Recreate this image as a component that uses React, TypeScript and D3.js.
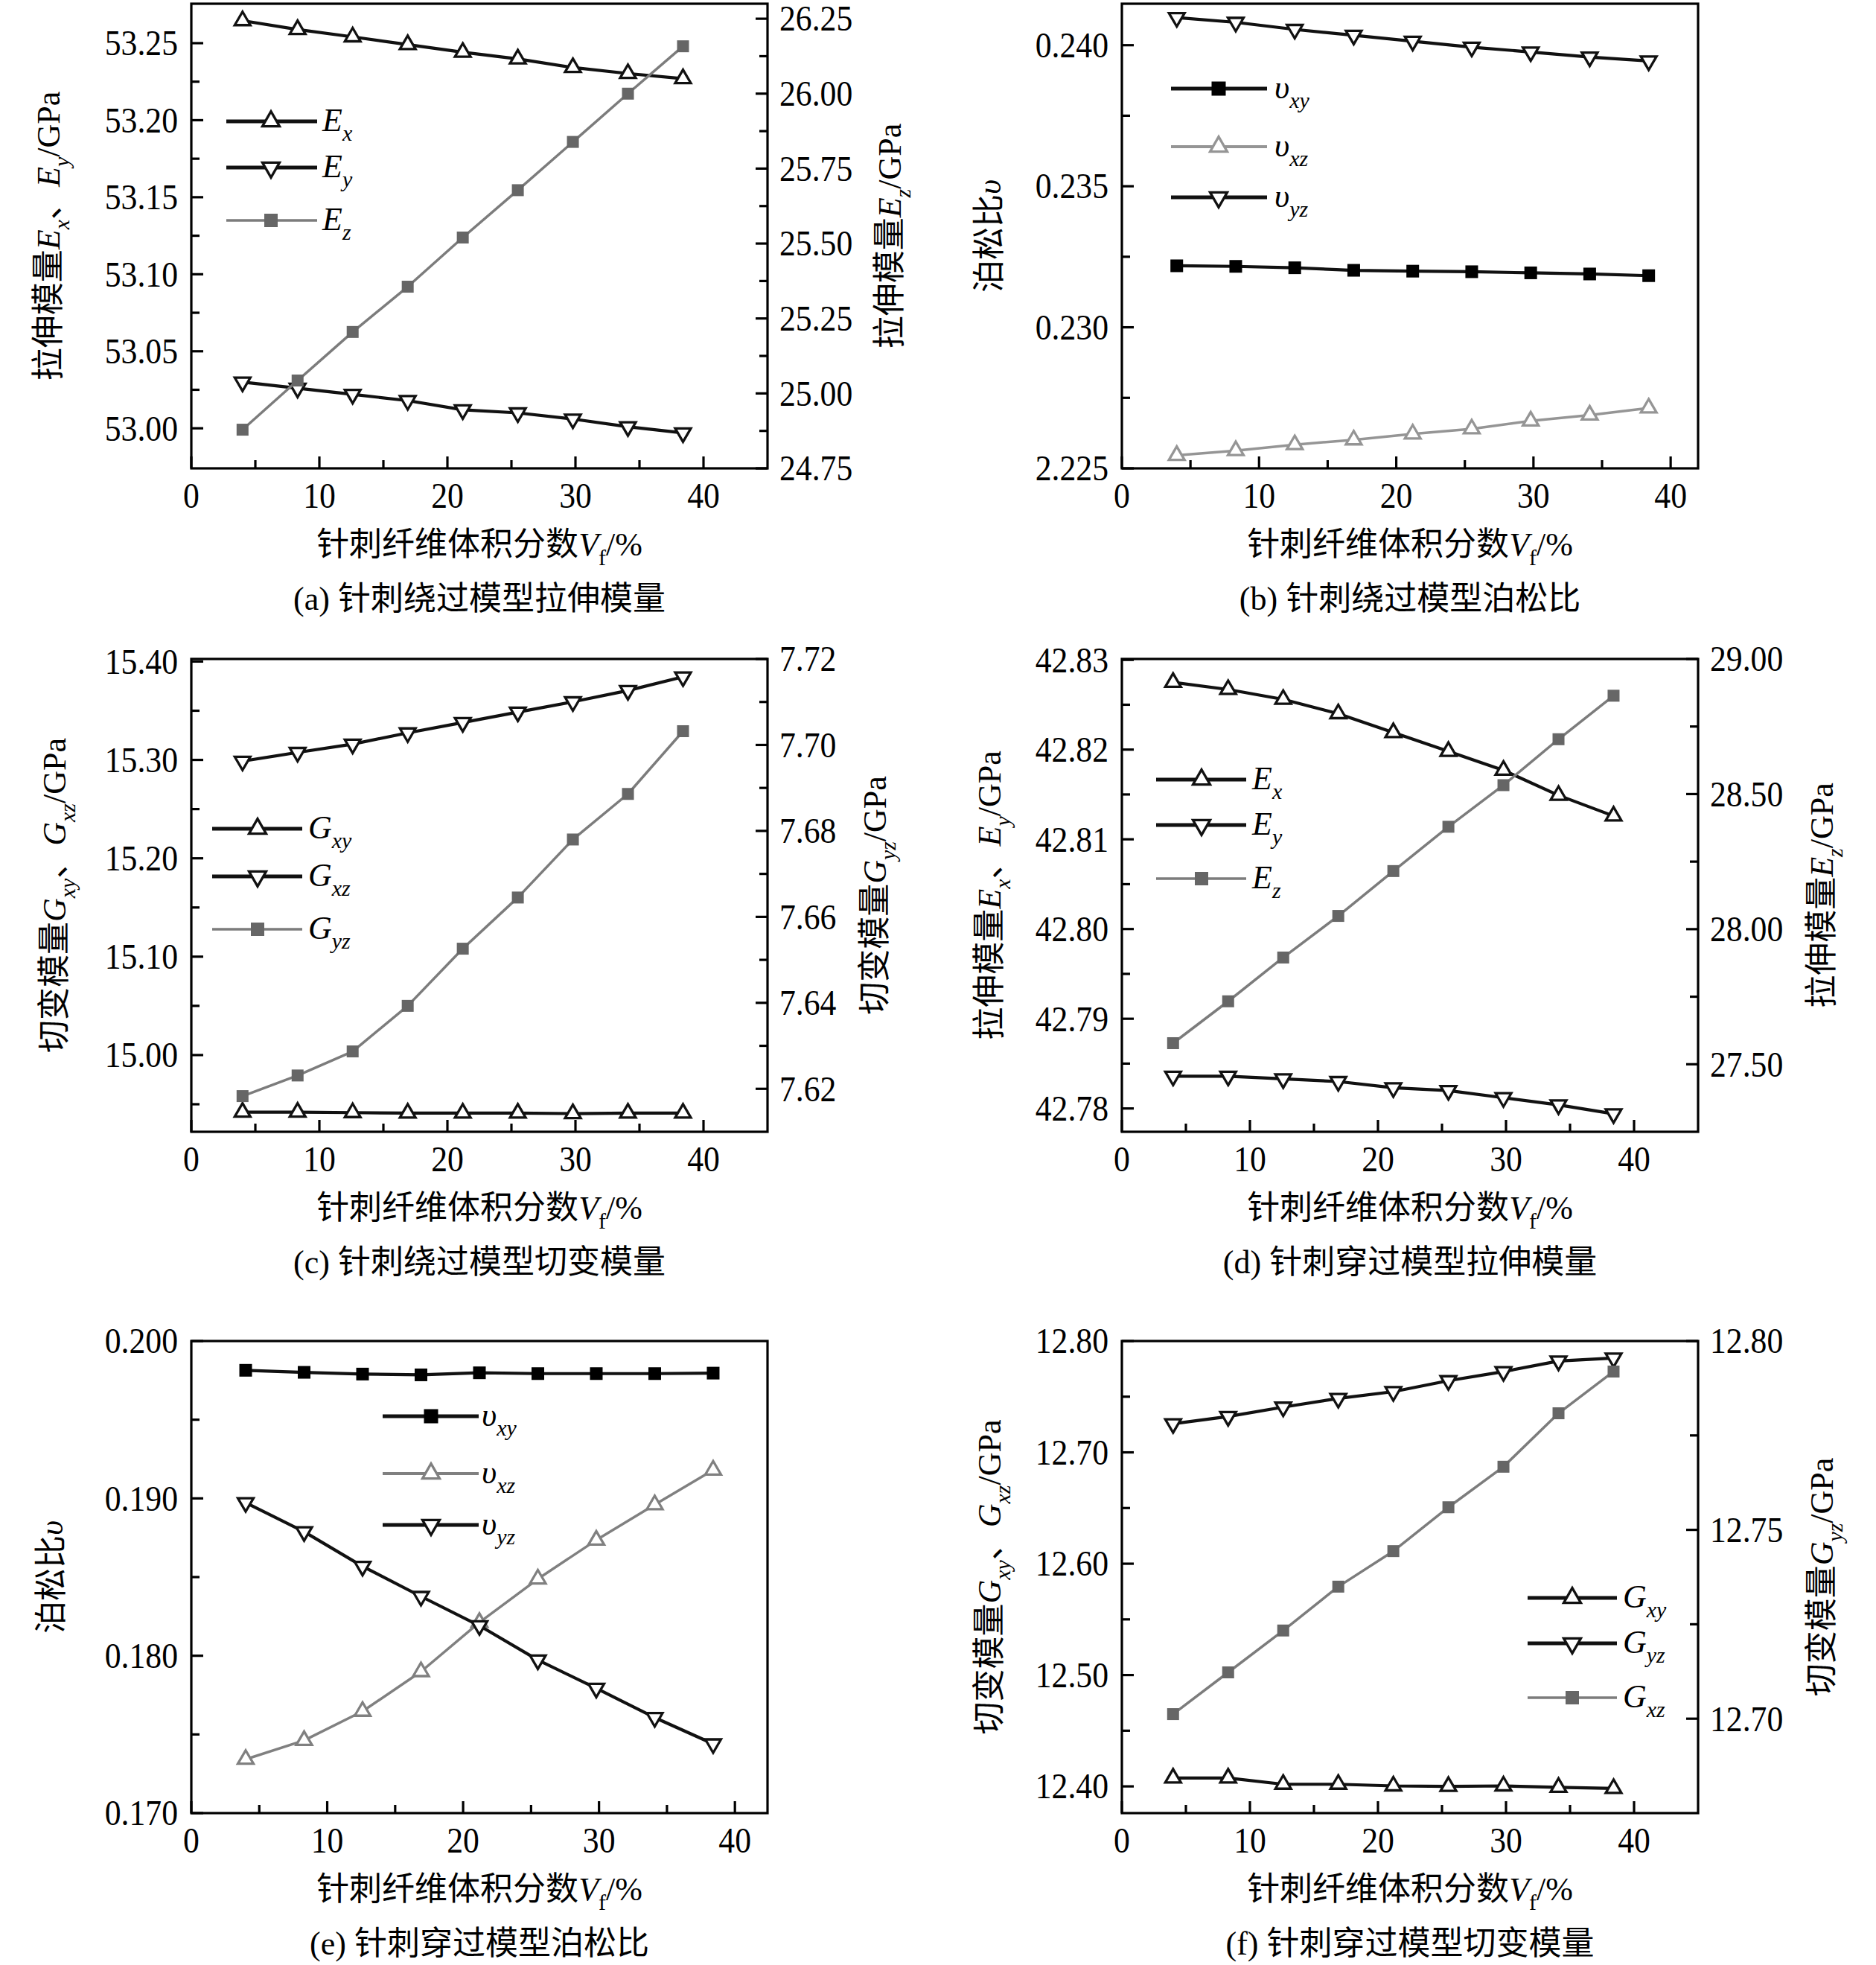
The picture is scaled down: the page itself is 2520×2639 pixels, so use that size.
import React from "react";
import * as d3 from "d3";

if (typeof document !== "undefined") {
  document.body.style.margin = "0";
}

const W = 2520;
const H = 2639;
const FONT = "'Liberation Serif', 'Times New Roman', 'Noto Sans CJK SC', serif";

// ---------- data ----------
const vf = [4.0, 8.3, 12.6, 16.9, 21.2, 25.5, 29.8, 34.1, 38.4];

// (a) 针刺绕过模型拉伸模量
const aEx = [53.2646, 53.2589, 53.2541, 53.2491, 53.2441, 53.2398, 53.2342, 53.2303, 53.227];
const aEy = [53.03, 53.026, 53.022, 53.018, 53.012, 53.01, 53.006, 53.001, 52.997];
const aEz = [24.879, 25.043, 25.205, 25.356, 25.52, 25.678, 25.839, 26.0, 26.158];

// (b) 针刺绕过模型泊松比
const bVxy = [0.23218, 0.23216, 0.23211, 0.23202, 0.23199, 0.23197, 0.23193, 0.23189, 0.23183];
const bVxz = [0.22546, 0.22563, 0.22584, 0.22601, 0.22622, 0.2264, 0.22668, 0.22689, 0.22714];
const bVyz = [0.24098, 0.24081, 0.24056, 0.24035, 0.24014, 0.23993, 0.23976, 0.23958, 0.23944];

// (c) 针刺绕过模型切变模量
const cGxy = [14.942, 14.942, 14.9415, 14.941, 14.941, 14.941, 14.9405, 14.941, 14.941];
const cGxz = [15.2987, 15.3076, 15.316, 15.3275, 15.338, 15.3486, 15.3591, 15.3705, 15.3844];
const cGyz = [7.6183, 7.6231, 7.6287, 7.6393, 7.6526, 7.6645, 7.678, 7.6886, 7.7032];

// (d) 针刺穿过模型拉伸模量
const dEx = [42.8275, 42.8267, 42.8256, 42.824, 42.8219, 42.8198, 42.8177, 42.8149, 42.8126];
const dEy = [42.7836, 42.7836, 42.7833, 42.783, 42.7823, 42.782, 42.7812, 42.7804, 42.7794];
const dEz = [27.578, 27.733, 27.895, 28.049, 28.215, 28.379, 28.533, 28.703, 28.864];

// (e) 针刺穿过模型泊松比
const eVxy = [0.19814, 0.19801, 0.1979, 0.19785, 0.19798, 0.19793, 0.19793, 0.19793, 0.19796];
const eVxz = [0.17342, 0.17462, 0.17647, 0.17899, 0.18212, 0.18488, 0.18735, 0.1896, 0.1918];
const eVyz = [0.18973, 0.18788, 0.18568, 0.18377, 0.18191, 0.17973, 0.17793, 0.17607, 0.1744];

// (f) 针刺穿过模型切变模量
const fGxy = [12.4075, 12.4075, 12.4019, 12.4019, 12.4004, 12.4, 12.4004, 12.3992, 12.3981];
const fGyz = [12.7781, 12.78, 12.7825, 12.7848, 12.7866, 12.7895, 12.7919, 12.7947, 12.7955];
const fGxz = [12.4649, 12.5024, 12.54, 12.5794, 12.6113, 12.6507, 12.6871, 12.7351, 12.7726];

// ---------- ticks ----------
const xTicks = [0, 10, 20, 30, 40];
const aLeftTicks = [53.0, 53.05, 53.1, 53.15, 53.2, 53.25];
const aRightTicks = [24.75, 25.0, 25.25, 25.5, 25.75, 26.0, 26.25];
const bLeftTicks = [0.225, 0.23, 0.235, 0.24];
const bLeftLabels = ["2.225", "0.230", "0.235", "0.240"];
const cLeftTicks = [15.0, 15.1, 15.2, 15.3, 15.4];
const cRightTicks = [7.62, 7.64, 7.66, 7.68, 7.7, 7.72];
const dLeftTicks = [42.78, 42.79, 42.8, 42.81, 42.82, 42.83];
const dRightTicks = [27.5, 28.0, 28.5, 29.0];
const eLeftTicks = [0.17, 0.18, 0.19, 0.2];
const fLeftTicks = [12.4, 12.5, 12.6, 12.7, 12.8];
const fRightTicks = [12.7, 12.75, 12.8];

// ---------- text ----------
const xTitle = [{ t: "针刺纤维体积分数" }, { t: "V", i: true }, { t: "f", s: true }, { t: "/%" }];
const titleEL = [{ t: "拉伸模量" }, { t: "E", i: true }, { t: "x", i: true, s: true }, { t: "、" }, { t: "E", i: true }, { t: "y", i: true, s: true }, { t: "/GPa" }];
const titleER = [{ t: "拉伸模量" }, { t: "E", i: true }, { t: "z", i: true, s: true }, { t: "/GPa" }];
const titleGL = [{ t: "切变模量" }, { t: "G", i: true }, { t: "xy", i: true, s: true }, { t: "、" }, { t: "G", i: true }, { t: "xz", i: true, s: true }, { t: "/GPa" }];
const titleGR = [{ t: "切变模量" }, { t: "G", i: true }, { t: "yz", i: true, s: true }, { t: "/GPa" }];
const titleV = [{ t: "泊松比" }, { t: "υ", i: true }];

type Seg = { t: string; i?: boolean; s?: boolean };

const sym = (base: string, sub: string): Seg[] => [
  { t: base, i: true },
  { t: sub, i: true, s: true },
];

const fmt2 = d3.format(".2f");
const fmt3 = d3.format(".3f");

const BLACK = "#111";
const GREY = "#7c7c7c";
const GREY_SQ = "#666";

type AxisCfg = { domain: [number, number]; ticks: number[]; labels: string[]; minor: number };
type SeriesCfg = {
  ys: number[];
  axis: "L" | "R";
  color: string;
  width: number;
  legW: number;
  marker: "up" | "down" | "sq";
  mk: string;
  sq?: number;
  label: Seg[];
};
type PanelCfg = {
  l: number;
  r: number;
  t: number;
  b: number;
  xMax: number;
  left: AxisCfg;
  right?: AxisCfg;
  series: SeriesCfg[];
  legend: { x0: number; x1: number; mx: number; lx: number; ys: number[] };
  titleL: { x: number; segs: Seg[] };
  titleR?: { x: number; segs: Seg[] };
  caption: string;
};

function rich(segs: Seg[], fs: number) {
  let cur = 0;
  return segs.map((s, k) => {
    const target = s.s ? fs * 0.3 : 0;
    const dy = target - cur;
    cur = target;
    return (
      <tspan key={k} dy={dy} fontStyle={s.i ? "italic" : "normal"} fontSize={s.s ? fs * 0.68 : fs}>
        {s.t}
      </tspan>
    );
  });
}

function Marker({ kind, x, y, color, w, h, sq }: { kind: string; x: number; y: number; color: string; w: number; h: number; sq: number }) {
  if (kind === "sq") {
    return <rect x={x - sq / 2} y={y - sq / 2} width={sq} height={sq} fill={color} />;
  }
  const s = kind === "up" ? 1 : -1;
  const d = `M${x},${y - (s * 2 * h) / 3} L${x + w / 2},${y + (s * h) / 3} L${x - w / 2},${y + (s * h) / 3} Z`;
  return <path d={d} fill="#fff" stroke={color} strokeWidth={3.3} strokeLinejoin="miter" />;
}

function minors(major: number[], off: number, dom: [number, number]) {
  const eps = Math.abs(dom[1] - dom[0]) * 0.004;
  const out: number[] = [];
  major.forEach((m) => {
    [m - off, m + off].forEach((v) => {
      if (v > dom[0] + eps && v < dom[1] - eps && !out.some((o) => Math.abs(o - v) < off * 0.1)) out.push(v);
    });
  });
  return out;
}

const TICK_FS = 48;
function TickLabel({ x, y, anchor, children }: { x: number; y: number; anchor: string; children: React.ReactNode }) {
  return (
    <text transform={`translate(${x},${y}) scale(0.91,1)`} x={0} y={TICK_FS * 0.34} textAnchor={anchor} fontSize={TICK_FS}>
      {children}
    </text>
  );
}

function Panel({ p }: { p: PanelCfg }) {
  const x = d3.scaleLinear().domain([0, p.xMax]).range([p.l, p.r]);
  const yL = d3.scaleLinear().domain(p.left.domain).range([p.b, p.t]);
  const yR = p.right ? d3.scaleLinear().domain(p.right.domain).range([p.b, p.t]) : yL;
  const cx = (p.l + p.r) / 2;
  const cy = (p.t + p.b) / 2;
  const TF = 44;
  const MAJ = 16;
  const MIN = 11;
  const xMin = minors(xTicks, 5, [0, p.xMax]);
  const lMin = minors(p.left.ticks, p.left.minor, p.left.domain);
  const rMin = p.right ? minors(p.right.ticks, p.right.minor, p.right.domain) : [];

  return (
    <g>
      {p.series.map((s, k) => {
        const sc = s.axis === "R" ? yR : yL;
        const line = d3
          .line<number>()
          .x((_, i) => x(vf[i]))
          .y((v) => sc(v));
        return (
          <g key={k}>
            <path d={line(s.ys) || ""} fill="none" stroke={s.color} strokeWidth={s.width} strokeLinejoin="round" />
            {s.ys.map((v, i) => (
              <Marker key={i} kind={s.marker} x={x(vf[i])} y={sc(v)} color={s.mk} w={21} h={18} sq={s.sq || 15} />
            ))}
          </g>
        );
      })}

      <rect x={p.l} y={p.t} width={p.r - p.l} height={p.b - p.t} fill="none" stroke="#000" strokeWidth={3.2} />

      {/* x axis ticks */}
      {xTicks.map((v) => (
        <g key={"xt" + v}>
          <line x1={x(v)} x2={x(v)} y1={p.b} y2={p.b - MAJ} stroke="#000" strokeWidth={3.2} />
          <TickLabel x={x(v)} y={p.b + 37} anchor="middle">
            {v}
          </TickLabel>
        </g>
      ))}
      {xMin.map((v) => (
        <line key={"xm" + v} x1={x(v)} x2={x(v)} y1={p.b} y2={p.b - MIN} stroke="#000" strokeWidth={3.2} />
      ))}

      {/* left axis */}
      {p.left.ticks.map((v, i) => (
        <g key={"lt" + i}>
          <line x1={p.l} x2={p.l + MAJ} y1={yL(v)} y2={yL(v)} stroke="#000" strokeWidth={3.2} />
          <TickLabel x={p.l - 18} y={yL(v)} anchor="end">
            {p.left.labels[i]}
          </TickLabel>
        </g>
      ))}
      {lMin.map((v, i) => (
        <line key={"lm" + i} x1={p.l} x2={p.l + MIN} y1={yL(v)} y2={yL(v)} stroke="#000" strokeWidth={3.2} />
      ))}

      {/* right axis */}
      {p.right &&
        p.right.ticks.map((v, i) => (
          <g key={"rt" + i}>
            <line x1={p.r} x2={p.r - MAJ} y1={yR(v)} y2={yR(v)} stroke="#000" strokeWidth={3.2} />
            <TickLabel x={p.r + 16} y={yR(v)} anchor="start">
              {p.right!.labels[i]}
            </TickLabel>
          </g>
        ))}
      {rMin.map((v, i) => (
        <line key={"rm" + i} x1={p.r} x2={p.r - MIN} y1={yR(v)} y2={yR(v)} stroke="#000" strokeWidth={3.2} />
      ))}

      {/* legend */}
      {p.series.map((s, k) => {
        const ly = p.legend.ys[k];
        return (
          <g key={"lg" + k}>
            <line x1={p.legend.x0} x2={p.legend.x1} y1={ly} y2={ly} stroke={s.color} strokeWidth={s.legW} />
            <Marker kind={s.marker} x={p.legend.mx} y={ly} color={s.mk} w={23} h={20} sq={(s.sq || 15) + 2} />
            <text x={p.legend.lx} y={ly + TF * 0.3} fontSize={TF}>
              {rich(s.label, TF)}
            </text>
          </g>
        );
      })}

      {/* titles */}
      <text transform={`translate(${p.titleL.x},${cy}) rotate(-90)`} x={0} y={TF * 0.36} textAnchor="middle" fontSize={TF}>
        {rich(p.titleL.segs, TF)}
      </text>
      {p.titleR && (
        <text transform={`translate(${p.titleR.x},${cy}) rotate(-90)`} x={0} y={TF * 0.36} textAnchor="middle" fontSize={TF}>
          {rich(p.titleR.segs, TF)}
        </text>
      )}
      <text x={cx} y={p.b + 101 + TF * 0.36} textAnchor="middle" fontSize={TF}>
        {rich(xTitle, TF)}
      </text>
      <text x={cx} y={p.b + 174 + TF * 0.36} textAnchor="middle" fontSize={TF}>
        {p.caption}
      </text>
    </g>
  );
}

const blackSeries = (ys: number[], axis: "L" | "R", marker: "up" | "down" | "sq", label: Seg[]): SeriesCfg => ({
  ys,
  axis,
  color: BLACK,
  width: 4.2,
  legW: 5,
  marker,
  mk: marker === "sq" ? "#000" : BLACK,
  sq: marker === "sq" ? 17 : undefined,
  label,
});
const greySquare = (ys: number[], axis: "L" | "R", label: Seg[]): SeriesCfg => ({
  ys,
  axis,
  color: GREY,
  width: 3.5,
  legW: 3.6,
  marker: "sq",
  mk: GREY_SQ,
  sq: 16,
  label,
});
const greyTri = (ys: number[], color: string, label: Seg[]): SeriesCfg => ({
  ys,
  axis: "L",
  color,
  width: 3.5,
  legW: 4,
  marker: "up",
  mk: color,
  label,
});

const panels: PanelCfg[] = [
  {
    l: 257, r: 1031, t: 5, b: 629, xMax: 45,
    left: { domain: [52.974, 53.2756], ticks: aLeftTicks, labels: aLeftTicks.map(fmt2), minor: 0.025 },
    right: { domain: [24.75, 26.3], ticks: aRightTicks, labels: aRightTicks.map(fmt2), minor: 0.125 },
    series: [
      blackSeries(aEx, "L", "up", sym("E", "x")),
      blackSeries(aEy, "L", "down", sym("E", "y")),
      greySquare(aEz, "R", sym("E", "z")),
    ],
    legend: { x0: 304, x1: 426, mx: 364, lx: 433, ys: [163, 225, 296] },
    titleL: { x: 64, segs: titleEL },
    titleR: { x: 1194, segs: titleER },
    caption: "(a) 针刺绕过模型拉伸模量",
  },
  {
    l: 1507, r: 2281, t: 5, b: 629, xMax: 42,
    left: { domain: [0.225, 0.24147], ticks: bLeftTicks, labels: bLeftLabels, minor: 0.0025 },
    series: [
      blackSeries(bVxy, "L", "sq", sym("υ", "xy")),
      greyTri(bVxz, "#959595", sym("υ", "xz")),
      blackSeries(bVyz, "L", "down", sym("υ", "yz")),
    ],
    legend: { x0: 1573, x1: 1702, mx: 1637, lx: 1712, ys: [119, 197, 265] },
    titleL: { x: 1328, segs: titleV },
    caption: "(b) 针刺绕过模型泊松比",
  },
  {
    l: 257, r: 1031, t: 885, b: 1520, xMax: 45,
    left: { domain: [14.922, 15.4026], ticks: cLeftTicks, labels: cLeftTicks.map(fmt2), minor: 0.05 },
    right: { domain: [7.61, 7.72], ticks: cRightTicks, labels: cRightTicks.map(fmt2), minor: 0.01 },
    series: [
      blackSeries(cGxy, "L", "up", sym("G", "xy")),
      blackSeries(cGxz, "L", "down", sym("G", "xz")),
      greySquare(cGyz, "R", sym("G", "yz")),
    ],
    legend: { x0: 285, x1: 406, mx: 346, lx: 414, ys: [1113, 1177, 1248] },
    titleL: { x: 72, segs: titleGL },
    titleR: { x: 1174, segs: titleGR },
    caption: "(c) 针刺绕过模型切变模量",
  },
  {
    l: 1507, r: 2281, t: 885, b: 1520, xMax: 45,
    left: { domain: [42.7774, 42.8301], ticks: dLeftTicks, labels: dLeftTicks.map(fmt2), minor: 0.005 },
    right: { domain: [27.25, 29.0], ticks: dRightTicks, labels: dRightTicks.map(fmt2), minor: 0.25 },
    series: [
      blackSeries(dEx, "L", "up", sym("E", "x")),
      blackSeries(dEy, "L", "down", sym("E", "y")),
      greySquare(dEz, "R", sym("E", "z")),
    ],
    legend: { x0: 1553, x1: 1674, mx: 1614, lx: 1682, ys: [1047, 1108, 1180] },
    titleL: { x: 1328, segs: titleEL },
    titleR: { x: 2446, segs: titleER },
    caption: "(d) 针刺穿过模型拉伸模量",
  },
  {
    l: 257, r: 1031, t: 1801, b: 2435, xMax: 42.4,
    left: { domain: [0.17, 0.2], ticks: eLeftTicks, labels: eLeftTicks.map(fmt3), minor: 0.005 },
    series: [
      blackSeries(eVxy, "L", "sq", sym("υ", "xy")),
      greyTri(eVxz, "#808080", sym("υ", "xz")),
      blackSeries(eVyz, "L", "down", sym("υ", "yz")),
    ],
    legend: { x0: 514, x1: 643, mx: 579, lx: 647, ys: [1902, 1979, 2048] },
    titleL: { x: 68, segs: titleV },
    caption: "(e) 针刺穿过模型泊松比",
  },
  {
    l: 1507, r: 2281, t: 1801, b: 2435, xMax: 45,
    left: { domain: [12.376, 12.8], ticks: fLeftTicks, labels: fLeftTicks.map(fmt2), minor: 0.05 },
    right: { domain: [12.675, 12.8], ticks: fRightTicks, labels: fRightTicks.map(fmt2), minor: 0.025 },
    series: [
      blackSeries(fGxy, "L", "up", sym("G", "xy")),
      blackSeries(fGyz, "R", "down", sym("G", "yz")),
      greySquare(fGxz, "L", sym("G", "xz")),
    ],
    legend: { x0: 2052, x1: 2172, mx: 2112, lx: 2180, ys: [2146, 2207, 2280] },
    titleL: { x: 1328, segs: titleGL },
    titleR: { x: 2446, segs: titleGR },
    caption: "(f) 针刺穿过模型切变模量",
  },
];

export default function App() {
  return (
    <svg
      width={W}
      height={H}
      viewBox={`0 0 ${W} ${H}`}
      style={{ display: "block", background: "#fff", fontFamily: FONT }}
      fontFamily={FONT}
      fill="#000"
    >
      <rect x={0} y={0} width={W} height={H} fill="#fff" />
      {panels.map((p, i) => (
        <Panel key={i} p={p} />
      ))}
    </svg>
  );
}
